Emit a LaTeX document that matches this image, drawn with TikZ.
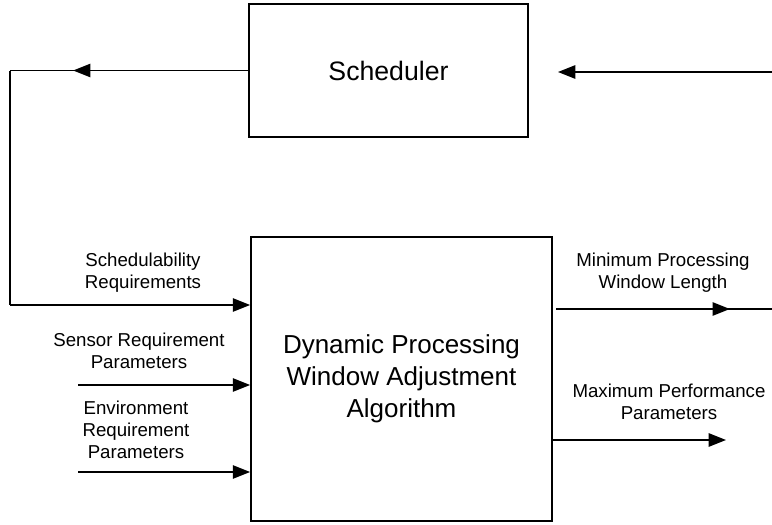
\documentclass[tikz,border=0pt]{standalone}
\usepackage{fontspec}
\setmainfont{Liberation Sans}
\usetikzlibrary{arrows.meta,decorations.markings}
\begin{document}
\begin{tikzpicture}[x=0.75pt,y=-0.75pt,
  line width=1.3pt,
  box/.style={draw, line width=1.3pt, inner sep=0pt},
  lbl/.style={align=center, font=\fontsize{14}{16.5}\selectfont, inner sep=0pt},
  conn/.style={draw, line width=1.3pt},
  tip/.style={-{Triangle[length=13pt,width=10pt]}},
  midtip/.style={postaction={decorate}, decoration={markings,
     mark=at position #1 with {\arrow{Triangle[length=13pt,width=10pt]}}}}]
\useasboundingbox (0,0) rectangle (772,525);
\node[box, minimum width=209.25pt, minimum height=99.75pt,
  font=\fontsize{20}{24}\selectfont] (sched) at (388.5,70.5) {Scheduler};
\node[box, minimum width=225.75pt, minimum height=213pt, align=center,
  font=\fontsize{19.5}{24}\selectfont] (algo) at (401.5,379)
  {Dynamic Processing\\Window Adjustment\\Algorithm};
% coordinates
\coordinate (tl) at (10,70.5);
\coordinate (bl) at (10,305);
\coordinate (sin) at (78,385);
\coordinate (ein) at (78,472);
\coordinate (trin) at (772,72);
\coordinate (trend) at (558,72);
\coordinate (minstart) at (556,309);
\coordinate (minend) at (772,309);
\coordinate (maxend) at (726,440);
% connectors
\draw[conn, midtip=0.735] (sched.west) -- (tl);
\draw[conn] (tl) -- (bl);
\draw[conn, tip] (bl) -- (bl -| algo.west);
\draw[conn, tip] (trin) -- (trend);
\draw[conn, tip] (sin) -- (sin -| algo.west);
\draw[conn, tip] (ein) -- (ein -| algo.west);
\draw[conn, midtip=0.805] (minstart) -- (minend);
\draw[conn, tip] (maxend -| algo.east) -- (maxend);
% labels
\node[lbl] (l1) at (143,273) {Schedulability\\Requirements};
\node[lbl] (l2) at (139,351) {Sensor Requirement\\Parameters};
\node[lbl] (l3) at (136,430) {Environment\\Requirement\\Parameters};
\node[lbl] (l4) at (663,273) {Minimum Processing\\Window Length};
\node[lbl] (l5) at (669,402) {Maximum Performance\\Parameters};
\end{tikzpicture}
\end{document}
